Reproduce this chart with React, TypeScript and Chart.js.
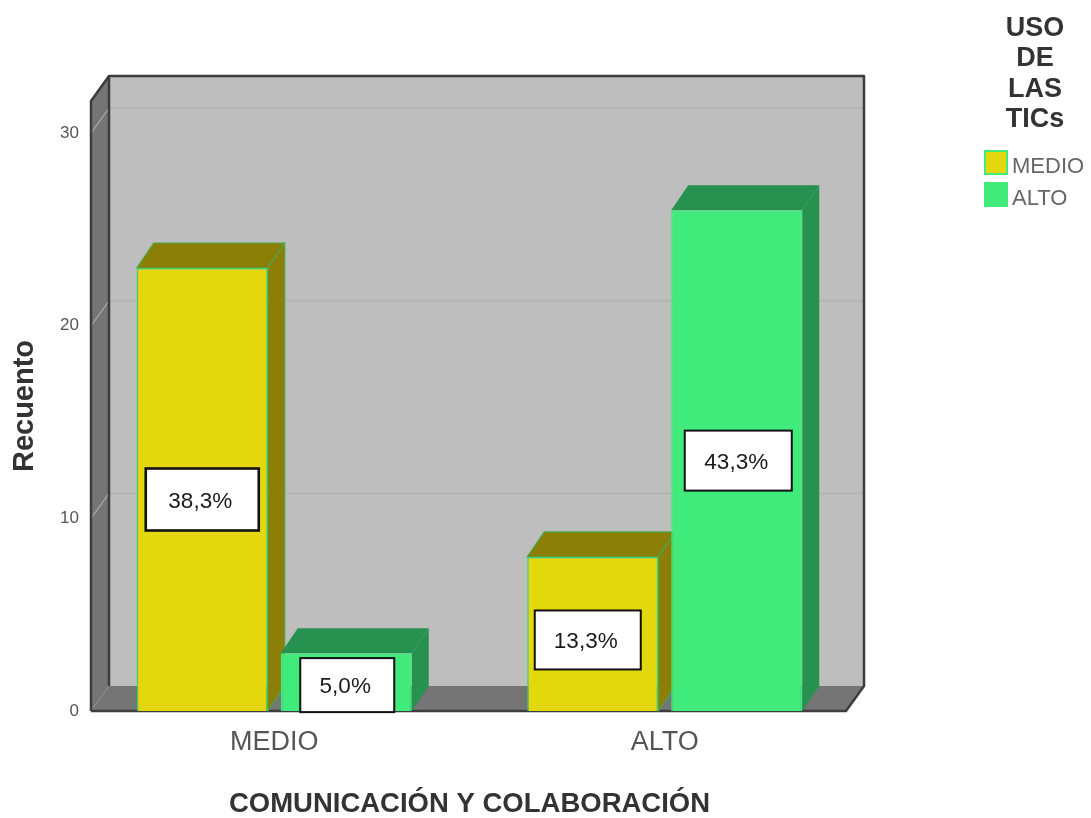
import React, { useEffect, useRef } from "react";
import { Chart, registerables } from "chart.js";

Chart.register(...registerables);

// Data
const categories = ["MEDIO", "ALTO"];
const seriesNames = ["MEDIO", "ALTO"];
const medioCounts = [23, 8];
const altoCounts = [3, 26];
const medioPercents = ["38,3%", "13,3%"];
const altoPercents = ["5,0%", "43,3%"];
const legendTitle = ["USO", "DE", "LAS", "TICs"];
const yTicks = [0, 10, 20, 30];

// Styling
const FONT = "'Liberation Sans', Arial, sans-serif";
const faceColors = ["#E3D70E", "#40EB7C"];
const topColors = ["#8B7F08", "#279150"];
const edgeColors = ["#3FCF6A", "#40EB7C"];
const WALL_DX = 18;
const WALL_DY = 25;
const BAR_DX = 17;
const FLOOR_INSET_LEFT = 12;
const FLOOR_INSET_RIGHT = 14;

// Size and nudge of each percentage box, per series and category
const boxLayout = [
  [{ w: 113, h: 62, dx: 0, dy: 10, lw: 2.6 }, { w: 106, h: 59, dx: -5, dy: 6, lw: 2 }],
  [{ w: 94, h: 54, dx: 1, dy: 3, lw: 2 }, { w: 107, h: 60, dx: 1.5, dy: 0, lw: 2 }],
];

function poly(ctx: CanvasRenderingContext2D, pts: number[][], fill: string, stroke?: string, lw = 1) {
  ctx.beginPath();
  pts.forEach(([x, y], i) => (i ? ctx.lineTo(x, y) : ctx.moveTo(x, y)));
  ctx.closePath();
  ctx.fillStyle = fill;
  ctx.fill();
  if (stroke) {
    ctx.strokeStyle = stroke;
    ctx.lineWidth = lw;
    ctx.stroke();
  }
}

// Back wall, side wall and floor behind the bars, then the depth faces of each bar
const boxPlugin = {
  id: "box3d",
  beforeDatasetsDraw(chart: any) {
    const { ctx, chartArea: a, scales } = chart;
    const y = scales.y;
    const fl = a.left + FLOOR_INSET_LEFT;
    const fr = a.right - FLOOR_INSET_RIGHT;
    const bl = fl + WALL_DX;
    const br = fr + WALL_DX;
    const y0 = y.getPixelForValue(0);
    const yt = a.top;
    ctx.save();
    poly(ctx, [[bl, yt - WALL_DY], [br, yt - WALL_DY], [br, y0 - WALL_DY], [bl, y0 - WALL_DY]], "#BEBEBE");
    poly(ctx, [[fl, yt], [bl, yt - WALL_DY], [bl, y0 - WALL_DY], [fl, y0]], "#757575");
    poly(ctx, [[fl, y0], [bl, y0 - WALL_DY], [br, y0 - WALL_DY], [fr, y0]], "#757575");

    yTicks.slice(1).forEach((v) => {
      const py = y.getPixelForValue(v);
      ctx.strokeStyle = "#B4B4B4";
      ctx.lineWidth = 2;
      ctx.beginPath();
      ctx.moveTo(bl, py - WALL_DY);
      ctx.lineTo(br, py - WALL_DY);
      ctx.stroke();
      ctx.strokeStyle = "#A8A8A8";
      ctx.lineWidth = 1.2;
      ctx.beginPath();
      ctx.moveTo(fl, py);
      ctx.lineTo(bl, py - WALL_DY);
      ctx.stroke();
    });

    // Frame edges
    ctx.strokeStyle = "#3C3C3C";
    ctx.lineWidth = 2.5;
    ctx.lineJoin = "round";
    ctx.beginPath();
    ctx.moveTo(fl, y0);
    ctx.lineTo(fl, yt);
    ctx.lineTo(bl, yt - WALL_DY);
    ctx.lineTo(br, yt - WALL_DY);
    ctx.lineTo(br, y0 - WALL_DY);
    ctx.lineTo(fr, y0);
    ctx.lineTo(fl, y0);
    ctx.moveTo(bl, yt - WALL_DY);
    ctx.lineTo(bl, y0 - WALL_DY);
    ctx.stroke();

    chart.data.datasets.forEach((_: any, ds: number) => {
      chart.getDatasetMeta(ds).data.forEach((bar: any) => {
        const { x, y: top, base, width } = bar.getProps(["x", "y", "base", "width"], true);
        const l = x - width / 2;
        const r = x + width / 2;
        const outline = ds === 0 ? "#4BA84A" : undefined;
        poly(ctx, [[l, top], [l + BAR_DX, top - WALL_DY], [r + BAR_DX, top - WALL_DY], [r, top]], topColors[ds], outline, 1.2);
        poly(ctx, [[r, top], [r + BAR_DX, top - WALL_DY], [r + BAR_DX, base - WALL_DY], [r, base]], topColors[ds], outline, 1.2);
      });
    });
    ctx.restore();
  },
  // Percentage boxes and the legend sit above everything else
  afterDraw(chart: any) {
    const { ctx } = chart;
    ctx.save();
    const texts = [medioPercents, altoPercents];
    chart.data.datasets.forEach((_: any, ds: number) => {
      chart.getDatasetMeta(ds).data.forEach((bar: any, i: number) => {
        const { x, y: top, base } = bar.getProps(["x", "y", "base"], true);
        const b = boxLayout[ds][i];
        const cx = x + b.dx;
        const cy = (top + base) / 2 + b.dy;
        ctx.fillStyle = "#FFFFFF";
        ctx.strokeStyle = "#111111";
        ctx.lineWidth = b.lw;
        ctx.fillRect(cx - b.w / 2, cy - b.h / 2, b.w, b.h);
        ctx.strokeRect(cx - b.w / 2, cy - b.h / 2, b.w, b.h);
        ctx.fillStyle = "#1A1A1A";
        ctx.font = `22.5px ${FONT}`;
        ctx.textAlign = "center";
        ctx.textBaseline = "middle";
        ctx.fillText(texts[ds][i], cx - 2, cy + 2);
      });
    });

    ctx.fillStyle = "#333333";
    ctx.font = `bold 27px ${FONT}`;
    ctx.textAlign = "center";
    ctx.textBaseline = "middle";
    legendTitle.forEach((line, i) => ctx.fillText(line, 1035, 28.5 + i * 30.5));

    seriesNames.forEach((name, i) => {
      const top = 151 + i * 32;
      ctx.fillStyle = faceColors[i];
      ctx.strokeStyle = "#40EB7C";
      ctx.lineWidth = 2;
      ctx.fillRect(985, top, 22, 23);
      ctx.strokeRect(985, top, 22, 23);
      ctx.fillStyle = "#666666";
      ctx.font = `22px ${FONT}`;
      ctx.textAlign = "left";
      ctx.fillText(name, 1012, top + 16);
    });
    ctx.restore();
  },
};

export default function App() {
  const ref = useRef<HTMLCanvasElement>(null);

  useEffect(() => {
    const chart = new Chart(ref.current!, {
      type: "bar",
      data: {
        labels: categories,
        datasets: [medioCounts, altoCounts].map((data, i) => ({
          label: seriesNames[i],
          data,
          backgroundColor: faceColors[i],
          borderColor: edgeColors[i],
          borderWidth: 1.5,
          categoryPercentage: 0.7375,
          barPercentage: 0.91,
        })),
      },
      plugins: [boxPlugin],
      options: {
        animation: false,
        responsive: false,
        layout: { padding: { top: 101, right: 231, left: 0, bottom: 0 } },
        plugins: { legend: { display: false }, tooltip: { enabled: false } },
        scales: {
          x: {
            grid: { display: false, drawTicks: false },
            border: { display: false },
            ticks: {
              color: "#555555",
              font: { family: FONT, size: 27 },
              padding: 15,
              maxRotation: 0,
              autoSkip: false,
            },
            title: {
              display: true,
              text: "COMUNICACIÓN Y COLABORACIÓN",
              color: "#333333",
              font: { family: FONT, size: 27.5, weight: "bold" },
              padding: { top: 0, bottom: -3 },
            },
            afterFit(scale: any) {
              scale.height = 107;
            },
          },
          y: {
            min: 0,
            max: 31.67,
            grid: { display: false, drawTicks: false },
            border: { display: false },
            afterBuildTicks(scale: any) {
              scale.ticks = yTicks.map((value) => ({ value }));
            },
            ticks: {
              color: "#555555",
              font: { family: FONT, size: 17 },
              padding: 0,
            },
            title: {
              display: true,
              text: "Recuento",
              color: "#333333",
              font: { family: FONT, size: 29, weight: "bold" },
              padding: { top: 8, bottom: 0 },
            },
            afterFit(scale: any) {
              scale.width = 79;
            },
          },
        },
      } as any,
    });
    return () => chart.destroy();
  }, []);

  return (
    <canvas
      ref={ref}
      width={1091}
      height={818}
      style={{ position: "absolute", left: 0, top: 0, display: "block" }}
    />
  );
}
